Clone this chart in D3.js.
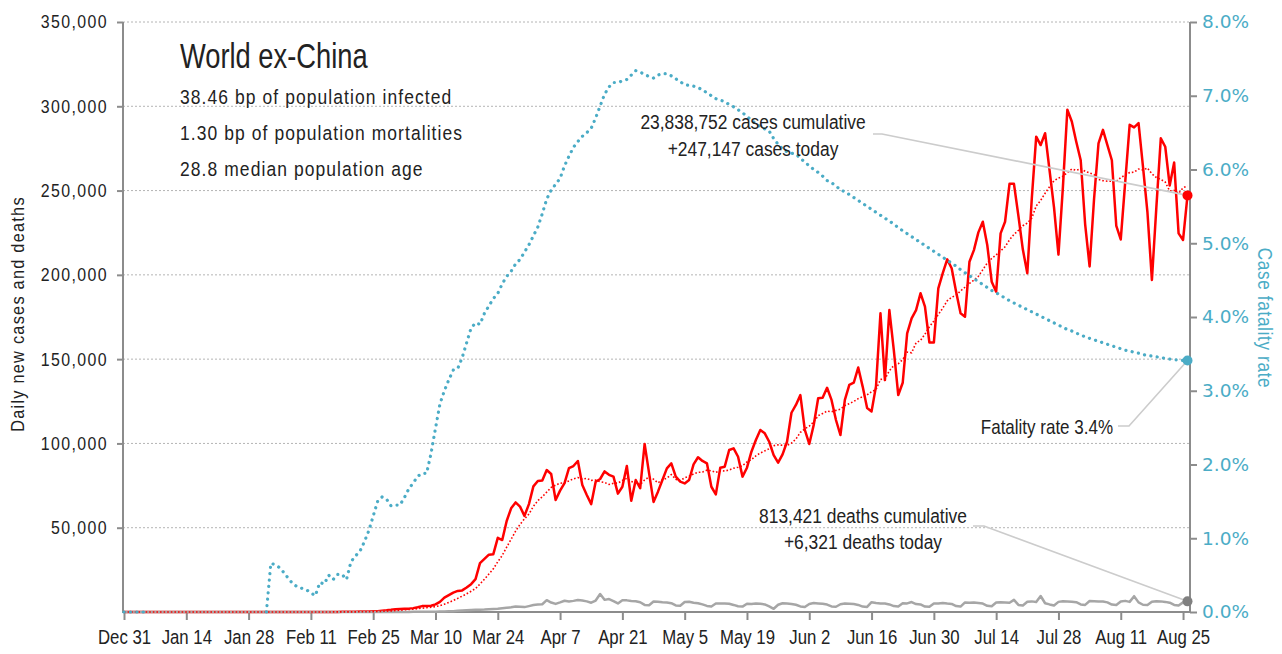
<!DOCTYPE html>
<html>
<head>
<meta charset="utf-8">
<script src="https://cdn.jsdelivr.net/npm/d3@7"></script>
<style>
  body { margin: 0; background: #fff; }
  svg text { font-family: "Liberation Sans", Arial, sans-serif; fill: #222; }
</style>
</head>
<body>
<div id="chart"></div>
<script>
// daily series, one value per day starting Dec 31 2019 (last day Aug 26 2020)
const cases = [
  0,0,0,0,0,0,0,0,0,0,
  0,0,0,1,0,1,1,0,0,1,
  3,2,4,9,10,12,14,15,20,18,
  16,25,13,16,14,18,22,31,45,38,
  35,32,40,28,55,60,48,55,70,90,
  106,110,205,290,250,280,400,500,800,1000,
  1300,1700,1800,1900,2000,2300,2800,3500,3600,3700,
  4500,6000,8500,10000,11500,12500,12800,14500,16500,19500,
  29000,31500,34000,34300,44000,42700,54000,61500,65000,62500,
  57000,64000,74500,77700,78000,84200,81900,66400,72000,76500,
  85400,86600,89600,75300,69400,64000,77300,78900,83400,81400,
  80300,70200,74300,86600,66000,78300,73400,99700,82400,65300,
  71400,78300,85200,88200,80300,77300,76300,78300,87600,91800,
  89600,88200,74300,69800,85600,86200,96100,97100,92100,80300,
  85600,95100,102000,108000,106000,101000,93100,88600,93500,101000,
  118200,122800,128700,108000,99700,110900,126800,127100,133000,125800,
  113900,105000,125800,134700,136000,145000,133700,121000,119000,134000,
  177200,137600,179100,155400,128700,136000,165300,174200,179100,189100,
  181100,159800,159800,192000,201000,209200,203900,190000,177200,175200,
  207800,214700,225200,231500,217700,195900,190000,224600,231500,254000,
  254000,235000,215000,201000,245000,282000,277000,284000,262000,240000,
  212000,252000,298000,291000,279000,268000,230000,205000,245000,278000,
  286000,277000,268000,229000,221000,255000,289000,287500,290000,264000,
  237000,197000,240000,281000,276000,253000,266600,224600,220700,247147
];

const deaths = [
  0,0,0,0,0,0,0,0,0,0,
  0,0,0,0,0,0,0,0,0,0,
  0,0,0,0,0,0,0,0,0,0,
  0,0,0,1,0,0,0,0,0,0,
  0,0,0,1,1,1,0,1,2,2,
  3,5,4,7,10,9,12,15,20,25,
  30,40,50,60,70,90,95,110,200,170,
  210,270,300,400,450,700,900,1100,1200,1300,
  1400,1500,1700,1800,1900,2200,2500,2800,3200,3100,
  2900,3500,4100,4400,4600,7000,5600,4800,5700,6700,
  6200,6600,7100,6800,6300,5500,6800,10700,7200,7700,
  6500,5100,7000,6900,6500,6400,5800,4200,4000,6200,
  6100,5800,5600,5200,3900,3700,5900,6100,5500,5200,
  4500,3600,3300,5000,5100,5000,4900,4200,3400,3200,
  4900,4700,5000,4900,4500,3300,1900,4300,5200,5000,
  4800,4300,3300,3000,4800,5300,5100,4900,4400,3300,
  3100,4600,5000,4900,4700,4200,3200,3000,5800,5300,
  5100,5000,4500,3500,3300,5200,5100,5900,4700,4500,
  3200,3100,5100,5100,5400,5000,4800,3500,3200,5700,
  5500,5600,5300,5000,3700,3400,5600,5800,5700,5500,
  7200,4200,3900,6100,6300,6000,9500,5200,4500,3900,
  6000,6400,6300,6100,5800,4500,4200,6500,6400,6300,
  6200,5700,4400,4100,6200,6600,6000,9400,5700,4300,
  4100,6100,6400,6300,6000,5500,4200,3900,5700,6321
];

// case fatality rate, percent (null = no cases yet)
const fatalityRate = [
  0,0,0,0,0,0,null,null,null,null,
  null,null,null,null,null,null,null,null,null,null,
  null,null,null,null,null,null,null,null,null,null,
  null,null,0,0.66,0.64,0.60,0.53,0.45,0.38,0.34,
  0.32,0.30,0.26,0.22,0.40,0.38,0.50,0.44,0.51,0.51,
  0.44,0.68,0.76,0.82,0.95,1.10,1.30,1.50,1.56,1.53,
  1.44,1.45,1.45,1.55,1.67,1.75,1.84,1.88,1.88,2.15,
  2.49,2.82,3.00,3.15,3.28,3.30,3.45,3.65,3.85,3.92,
  3.90,4.05,4.15,4.25,4.32,4.45,4.55,4.62,4.72,4.78,
  4.88,4.98,5.10,5.22,5.40,5.60,5.72,5.80,5.88,6.05,
  6.18,6.30,6.38,6.45,6.50,6.56,6.70,6.86,7.02,7.12,
  7.18,7.18,7.20,7.22,7.28,7.34,7.32,7.29,7.26,7.24,
  7.28,7.30,7.30,7.27,7.23,7.19,7.15,7.14,7.13,7.11,
  7.08,7.04,7.00,6.96,6.94,6.92,6.88,6.85,6.81,6.77,
  6.72,6.67,6.62,6.58,6.55,6.52,6.42,6.34,6.28,6.24,
  6.22,6.21,6.15,6.10,6.05,6.00,5.96,5.91,5.85,5.82,
  5.78,5.72,5.70,5.66,5.62,5.58,5.54,5.50,5.46,5.42,
  5.38,5.34,5.30,5.26,5.21,5.17,5.13,5.09,5.05,5.01,
  4.97,4.93,4.89,4.85,4.81,4.77,4.73,4.69,4.64,4.60,
  4.56,4.52,4.48,4.44,4.40,4.36,4.33,4.29,4.26,4.22,
  4.19,4.16,4.13,4.10,4.07,4.04,4.01,3.98,3.95,3.92,
  3.89,3.86,3.83,3.81,3.78,3.76,3.73,3.71,3.69,3.67,
  3.65,3.63,3.61,3.59,3.57,3.55,3.54,3.52,3.51,3.49,
  3.48,3.47,3.46,3.45,3.44,3.43,3.42,3.42,3.41,3.41
];

const xTickLabels = ['Dec 31','Jan 14','Jan 28','Feb 11','Feb 25','Mar 10','Mar 24','Apr 7','Apr 21',
  'May 5','May 19','Jun 2','Jun 16','Jun 30','Jul 14','Jul 28','Aug 11','Aug 25'];
const leftTicks = [50000,100000,150000,200000,250000,300000,350000];
const rightTicks = [0,1,2,3,4,5,6,7,8];

const title = 'World ex-China';
const infoLines = ['38.46 bp of population infected', '1.30 bp of population mortalities', '28.8 median population age'];
const casesNote = ['23,838,752 cases cumulative', '+247,147 cases today'];
const deathsNote = ['813,421 deaths cumulative', '+6,321 deaths today'];
const rateNote = 'Fatality rate 3.4%';

const W = 1282, H = 654;
const CYAN = '#4bacc6', RED = '#ff0000', GREY = '#a6a6a6', AXIS = '#8c8c8c';
const K = 0.86; // horizontal squeeze, no condensed face installed

const day0 = new Date(Date.UTC(2019, 11, 31));
const dates = cases.map((_, i) => d3.utcDay.offset(day0, i));
const xTickDates = xTickLabels.map((_, i) => d3.utcDay.offset(day0, i * 14));

// trailing 7-day mean of daily cases
const avg7 = cases.map((v, i) => d3.mean(cases.slice(Math.max(0, i - 6), i + 1)));

const x = d3.scaleUtc().domain([dates[0], dates[dates.length - 1]]).range([124, 1187.5]);
const yL = d3.scaleLinear().domain([0, 350000]).range([612, 22]);
const yR = d3.scaleLinear().domain([0, 8]).range([612, 22]);

const svg = d3.select('#chart').append('svg').attr('width', W).attr('height', H);

function squeeze(sel, k) {
  sel.each(function () {
    const t = d3.select(this);
    const xx = +t.attr('x') || 0;
    t.attr('x', xx / k).attr('transform', 'scale(' + k + ',1)');
  });
}
function label(tx, ty, txt, size, spacing, k, rot) {
  return svg.append('text')
    .attr('transform', 'translate(' + tx + ',' + ty + ')' + (rot ? ' rotate(' + rot + ')' : '') + ' scale(' + k + ',1)')
    .style('font-size', size + 'px').style('letter-spacing', spacing + 'px').text(txt);
}

// gridlines
svg.append('g').selectAll('line').data(leftTicks).enter().append('line')
  .attr('x1', 123).attr('x2', 1190)
  .attr('y1', d => yL(d)).attr('y2', d => yL(d))
  .attr('stroke', '#b4b4b4').attr('stroke-width', 1).attr('stroke-dasharray', '2,2');

// axes
const gLeft = svg.append('g').attr('transform', 'translate(123,0)')
  .call(d3.axisLeft(yL).tickValues(leftTicks).tickFormat(d3.format(',')).tickSize(6).tickPadding(9).tickSizeOuter(0));
gLeft.selectAll('text').style('font-size', '18.5px').style('letter-spacing', '1.6px').call(squeeze, K);

const gRight = svg.append('g').attr('transform', 'translate(1190,0)')
  .call(d3.axisRight(yR).tickValues(rightTicks).tickFormat(d => d.toFixed(1) + '%').tickSize(7).tickPadding(5).tickSizeOuter(0));
gRight.selectAll('text').style('font-size', '18.5px').style('font-family', '"DejaVu Sans", sans-serif')
  .style('fill', CYAN);

const gBottom = svg.append('g').attr('transform', 'translate(0,612)')
  .call(d3.axisBottom(x).tickValues(xTickDates).tickFormat((d, i) => xTickLabels[i]).tickSize(8).tickPadding(10).tickSizeOuter(0));
gBottom.selectAll('text').style('font-size', '19.5px').call(squeeze, K);

[gLeft, gRight, gBottom].forEach(g => {
  g.select('.domain').remove();
  g.selectAll('line').attr('stroke', AXIS).attr('stroke-width', 2);
});
svg.append('line').attr('x1', 123).attr('x2', 123).attr('y1', 22).attr('y2', 613)
  .attr('stroke', AXIS).attr('stroke-width', 2);
svg.append('line').attr('x1', 1190).attr('x2', 1190).attr('y1', 22).attr('y2', 613)
  .attr('stroke', AXIS).attr('stroke-width', 2);
svg.append('line').attr('x1', 122).attr('x2', 1191).attr('y1', 612).attr('y2', 612)
  .attr('stroke', AXIS).attr('stroke-width', 2);

// axis titles
label(24, 314, 'Daily new cases and deaths', 19, 1.45, K, -90).attr('text-anchor', 'middle');
label(1258, 318, 'Case fatality rate', 20, 0.75, K, 90).attr('text-anchor', 'middle').style('fill', CYAN);

// series
const lineL = d3.line().x((d, i) => x(dates[i])).y(d => yL(d));
const lineR = d3.line().defined(d => d != null).x((d, i) => x(dates[i])).y(d => yR(d));

svg.append('path').datum(cases).attr('d', lineL)
  .attr('fill', 'none').attr('stroke', RED).attr('stroke-width', 2.5).attr('stroke-linejoin', 'round');
svg.append('path').datum(deaths).attr('d', lineL)
  .attr('fill', 'none').attr('stroke', GREY).attr('stroke-width', 2.5).attr('stroke-linejoin', 'round');
svg.append('path').datum(avg7).attr('d', lineL)
  .attr('fill', 'none').attr('stroke', RED).attr('stroke-width', 1.6).attr('stroke-dasharray', '1.6,2');
svg.append('path').datum(fatalityRate).attr('d', lineR)
  .attr('fill', 'none').attr('stroke', CYAN).attr('stroke-width', 3.2)
  .attr('stroke-linecap', 'round').attr('stroke-dasharray', '0.1,6.3');

// title block
label(180, 68, title, 35, 0, 0.78);
infoLines.forEach((t, i) => label(180, 104 + i * 36, t, 20.3, 1.26, K));

// annotations with leader lines
const last = cases.length - 1;
const xEnd = x(dates[last]);
const leader = d3.line();
function leaderLine(pts) {
  svg.append('path').attr('d', leader(pts)).attr('fill', 'none')
    .attr('stroke', '#cccccc').attr('stroke-width', 1.6);
}
leaderLine([[873, 134], [882, 134], [xEnd, yL(cases[last])]]);
leaderLine([[973, 526], [984, 526], [xEnd, yL(deaths[last])]]);
leaderLine([[1118, 426], [1129, 426], [xEnd, yR(fatalityRate[last])]]);

casesNote.forEach((t, i) => label(753, 129 + i * 27, t, 20, 0, 0.87).attr('text-anchor', 'middle'));
deathsNote.forEach((t, i) => label(863, 523 + i * 25.5, t, 20, 0, 0.87).attr('text-anchor', 'middle'));
label(1113, 434, rateNote, 20, 0, 0.85).attr('text-anchor', 'end');

// end markers
svg.append('circle').attr('cx', xEnd).attr('cy', yL(cases[last])).attr('r', 5).attr('fill', RED);
svg.append('circle').attr('cx', xEnd).attr('cy', yR(fatalityRate[last])).attr('r', 5).attr('fill', CYAN);
svg.append('circle').attr('cx', xEnd).attr('cy', yL(deaths[last])).attr('r', 5).attr('fill', '#808080');
</script>
</body>
</html>
